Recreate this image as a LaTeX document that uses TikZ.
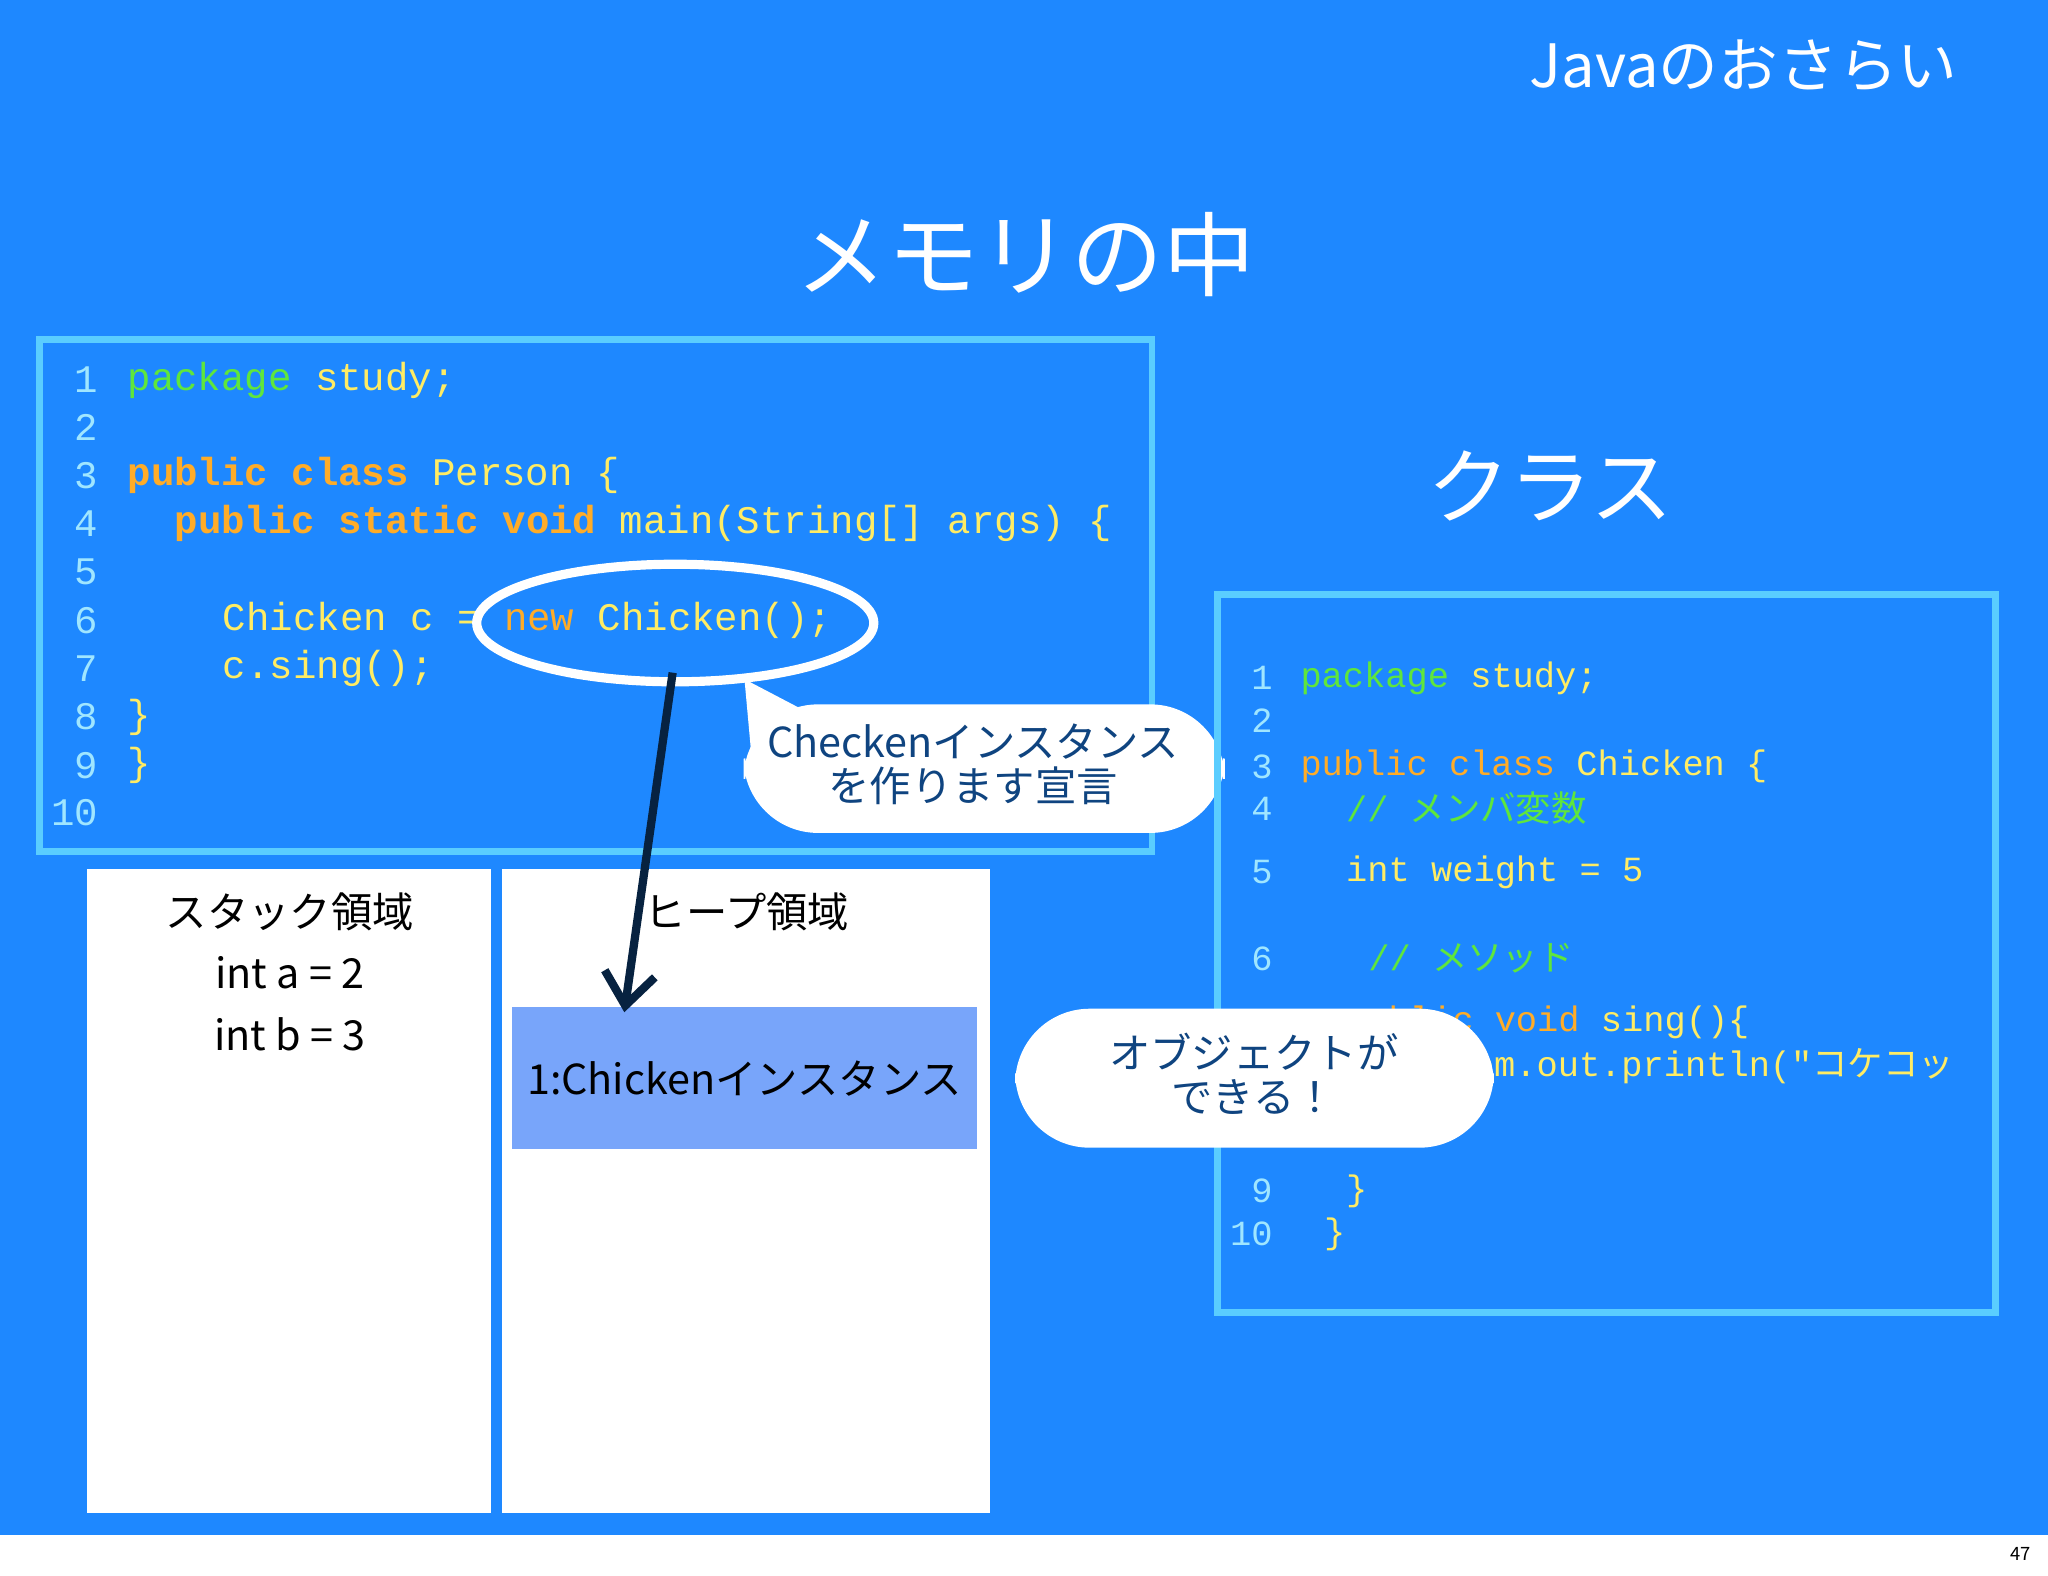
\documentclass[tikz,border=0pt]{standalone}
\usepackage{fontspec}
\setmainfont{Noto Sans CJK JP}
\setmonofont{Liberation Mono}
\newfontfamily\jp{Noto Sans CJK JP}
\usetikzlibrary{arrows.meta,positioning}
\definecolor{slide}{RGB}{30,136,255}
\definecolor{frame}{RGB}{90,205,255}
\definecolor{kw}{RGB}{255,172,40}
\definecolor{pk}{RGB}{95,230,60}
\definecolor{tx}{RGB}{255,236,100}
\definecolor{num}{RGB}{160,230,255}
\definecolor{inst}{RGB}{120,165,250}
\newcommand{\K}[1]{\textcolor{kw}{\textbf{#1}}}
\newcommand{\Kl}[1]{\textcolor{kw}{#1}}
\newcommand{\G}[1]{\textcolor{pk}{#1}}

\begin{document}
\begin{tikzpicture}[x=0.01cm,y=-0.01cm,
  code node/.style={anchor=west,inner sep=0,text=tx,font=\ttfamily\fontsize{8.5}{10}\selectfont},
  code small/.style={code node,font=\ttfamily\fontsize{7.7}{9}\selectfont},
  num node/.style={anchor=east,inner sep=0,text=num,font=\ttfamily\fontsize{8.5}{10}\selectfont},
  num small/.style={num node,font=\ttfamily\fontsize{7.7}{9}\selectfont},
  paper/.style={fill=white,draw=white,line width=1pt},
  bubble/.style={fill=white,draw=white,rounded corners=16pt},
  memo text/.style={text=black,font=\fontsize{9}{11}\selectfont},
  call text/.style={text=slide!50!black,align=center,font=\fontsize{9}{9.5}\selectfont}]
  \useasboundingbox (0,0) rectangle (1568,1206.6);
  \fill[slide] (0,0) rectangle (1568,1175);
  \fill[white] (0,1175) rectangle (1568,1206.6);
  \node[font=\fontsize{4}{5}\selectfont] (page) at (1547,1190) {47};

  % titles
  \node[text=white,font=\fontsize{13}{15}\selectfont] (topic) at (1335,50) {Javaのおさらい};
  \node[text=white,font=\fontsize{20}{24}\selectfont] (memory) at (785,195) {メモリの中};
  \node[text=white,font=\fontsize{18}{22}\selectfont] (klass) at (1187,372) {クラス};

  % Person code
  \draw[frame,line width=1.5pt] (30,260) rectangle (882,652);
  \foreach \n/\y in {1/291,2/327,3/364,4/401,5/438,6/475,7/512,8/549,9/586,10/622}
    \node[num node] at (76,\y) {\n};
  \node[code node] (p1) at (97,291) {\G{package} study;};
  \node[code node] (p3) at (97,364) {\K{public class} Person \{};
  \node[code node] (p4) at (133,401) {\K{public static void} main(String[] args) \{};
  \node[code node] (p6) at (170,475) {Chicken c = \Kl{new} Chicken();};
  \node[code node] (p7) at (170,512) {c.sing();};
  \node[code node] (p8) at (97,549) {\}};
  \node[code node] (p9) at (97,586) {\}};
  \draw[white,line width=2pt] (517,477) ellipse (152 and 45);
  \coordinate (newpt) at (515,515);

  % callout 1
  \draw[bubble] (570,540) rectangle (937,637);
  \fill[white] (570,520) -- (612,542) -- (575,575) -- cycle;
  \node[call text] (say1) at (745,585) {Checkenインスタンス\\を作ります宣言};

  % memory
  \draw[paper] (68,667) rectangle (374,1157);
  \node[memo text] (stack) at (222,698) {スタック領域};
  \node[memo text] (ia) at (222,745) {int a = 2};
  \node[memo text] (ib) at (222,792) {int b = 3};
  \draw[paper] (386,667) rectangle (756,1157);
  \node[memo text] (heap) at (572,698) {ヒープ領域};
  \fill[inst] (392,771) rectangle (748,880);
  \node[memo text] (obj) at (570,826) {1:Chickenインスタンス};
  \coordinate (objpt) at (478,775);
  \draw[-{Straight Barb[length=7pt,width=11pt]},line width=1.8pt,slide!25!black] (newpt) -- (objpt);

  % Chicken code
  \draw[frame,line width=1.5pt] (932,455) rectangle (1528,1005);
  \foreach \n/\y in {1/519,2/552,3/587,4/619,5/668,6/734,7/783,8/816,9/912,10/945}
    \node[num small] at (975,\y) {\n};
  \node[code small] (c1) at (995,519) {\G{package} study;};
  \node[code small] (c3) at (995,587) {\Kl{public class} Chicken \{};
  \node[code small] (c4) at (1030,619) {\G{// {\jp メンバ変数}}};
  \node[code small] (c5) at (1030,668) {int weight = 5};
  \node[code small] (c6) at (1047,734) {\G{// {\jp メソッド}}};
  \node[code small] (c7) at (1030,783) {\Kl{public void} sing()\{};
  \node[code small] (c8) at (1062,816) {System.out.println("{\jp コケコッ}};
  \node[code small] (c9) at (1030,912) {\}};
  \node[code small] (c10) at (1013,945) {\}};

  % callout 2
  \draw[bubble] (778,773) rectangle (1143,878);
  \node[call text] (say2) at (960,822) {オブジェクトが\\できる！};
\end{tikzpicture}
\end{document}
